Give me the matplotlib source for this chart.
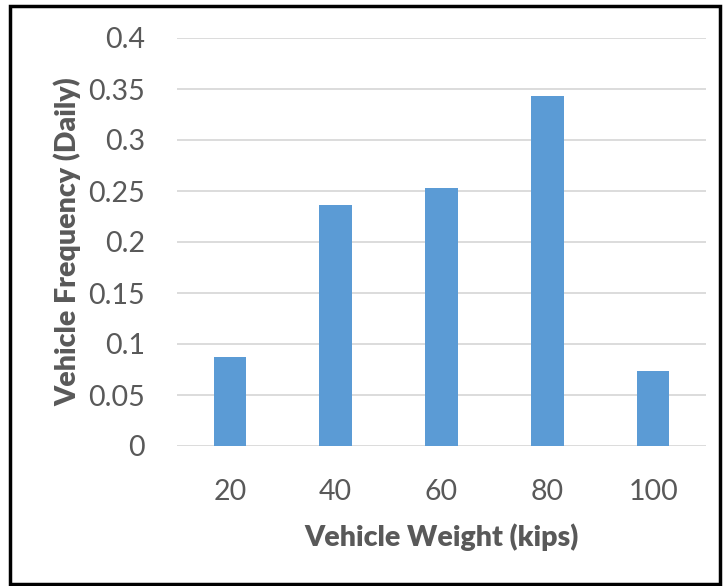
import matplotlib.pyplot as plt
from matplotlib.patches import Rectangle

weights = ['20', '40', '60', '80', '100']
freq = [0.087, 0.236, 0.253, 0.343, 0.074]
yticks = [0, 0.05, 0.1, 0.15, 0.2, 0.25, 0.3, 0.35, 0.4]
ytick_labels = ['0', '0.05', '0.1', '0.15', '0.2', '0.25', '0.3', '0.35', '0.4']

plt.rcParams['font.family'] = ['Lato', 'DejaVu Sans']

fig = plt.figure(figsize=(7.23, 5.86), dpi=100)
ax = fig.add_axes([177/723, 1-446/586, 529/723, 408/586])

x = list(range(len(weights)))
ax.bar(x, freq, width=0.31, color='#5b9bd5', zorder=3)
ax.set_xlim(-0.5, len(weights)-0.5)
ax.set_ylim(0, 0.4)
ax.set_yticks(yticks)
ax.set_yticklabels(ytick_labels)
ax.set_xticks(x)
ax.set_xticklabels(weights)
ax.grid(axis='y', color='#d9d9d9', linewidth=1.3, zorder=0)
for s in ax.spines.values():
    s.set_visible(False)
ax.tick_params(length=0, labelsize=20.5, colors='#595959', pad=24)
ax.tick_params(axis='y', pad=23)
ax.set_xlabel('Vehicle Weight (kips)', fontsize=20.5, fontweight='heavy', color='#595959', labelpad=13)
ax.set_ylabel('Vehicle Frequency (Daily)', fontsize=20.5, fontweight='heavy', color='#595959', labelpad=5)

fig.patches.append(Rectangle((10/723, 1-584/586), 710/723, 578/586, transform=fig.transFigure,
                             fill=False, edgecolor='black', linewidth=2.5))

fig.savefig('out.png', dpi=100)
